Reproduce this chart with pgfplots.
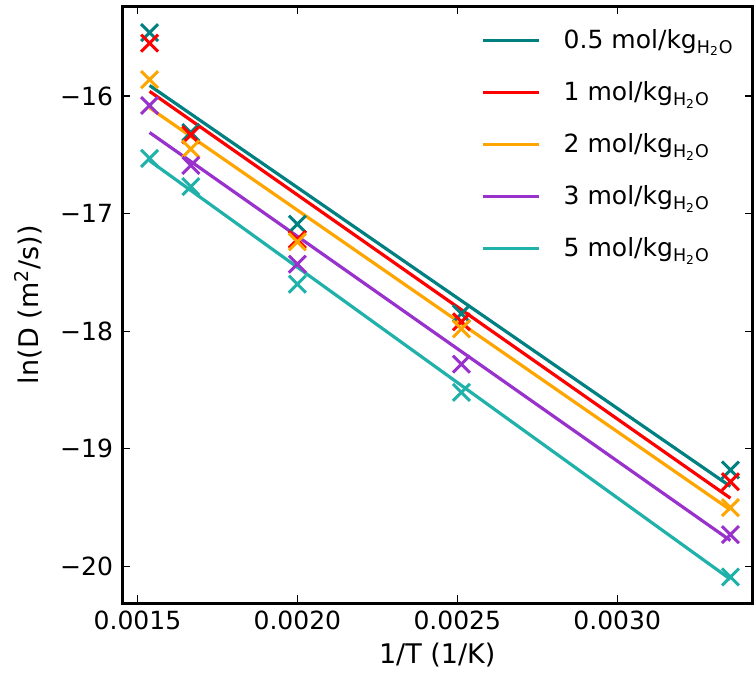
\documentclass[border=0pt]{standalone}
\usepackage{fontspec}
\setmainfont{DejaVu Sans}
\usepackage{pgfplots}
\pgfplotsset{compat=1.18}

\definecolor{cteal}{RGB}{0,128,128}
\definecolor{cred}{RGB}{255,0,0}
\definecolor{corange}{RGB}{255,165,0}
\definecolor{cpurple}{RGB}{153,50,204}
\definecolor{ccyan}{RGB}{32,178,170}

\newcommand{\molkg}{mol/kg\textsubscript{H\textsubscript{2}O}}

\begin{document}
\begin{tikzpicture}
\begin{axis}[
  scale only axis,
  width=315pt, height=298.5pt,
  xmin=0.001452, xmax=0.003423,
  ymin=-20.315, ymax=-15.234,
  xtick={0.0015,0.002,0.0025,0.003},
  xticklabels={0.0015,0.0020,0.0025,0.0030},
  ytick={-20,-19,-18,-17,-16},
  yticklabels={−20,−19,−18,−17,−16},
  scaled x ticks=false,
  tick align=inside,
  major tick length=4pt,
  tick style={line width=0.7pt,black},
  axis line style={line width=1.5pt},
  ticklabel style={font=\fontsize{12.5}{15}\selectfont},
  yticklabel style={xshift=-1pt},
  label style={font=\fontsize{13.5}{16}\selectfont},
  xlabel={1/T (1/K)},
  ylabel={ln(D (m\textsuperscript{2}/s))},
  ylabel style={yshift=2pt},
  legend style={draw=none, fill=none, at={(0.9866,0.975)}, anchor=north east,
    font=\fontsize{12.5}{15}\selectfont, row sep=11pt},
  legend cell align=left,
  legend image code/.code={\draw[#1] (0pt,0pt) -- (28pt,0pt); \path (37.5pt,0pt);},
  every axis plot/.append style={line width=1.6pt},
]
% fitted lines
\addplot[cteal, no markers] coordinates {(0.001538,-15.91) (0.003354,-19.32)};
\addplot[cred, no markers] coordinates {(0.001538,-15.96) (0.003354,-19.42)};
\addplot[corange, no markers] coordinates {(0.001538,-16.10) (0.003354,-19.52)};
\addplot[cpurple, no markers] coordinates {(0.001538,-16.31) (0.003354,-19.78)};
\addplot[ccyan, no markers] coordinates {(0.001538,-16.55) (0.003354,-20.11)};
\legend{0.5 \molkg, 1 \molkg, 2 \molkg, 3 \molkg, 5 \molkg}
% measured points
\addplot[only marks, mark=x, mark size=6pt, line width=1.5pt, cteal, forget plot] coordinates {
  (0.001538,-15.46) (0.001667,-16.31) (0.002,-17.09) (0.002513,-17.85) (0.003354,-19.18)};
\addplot[only marks, mark=x, mark size=6pt, line width=1.5pt, cred, forget plot] coordinates {
  (0.001538,-15.55) (0.001667,-16.33) (0.002,-17.22) (0.002513,-17.92) (0.003354,-19.28)};
\addplot[only marks, mark=x, mark size=6pt, line width=1.5pt, corange, forget plot] coordinates {
  (0.001538,-15.86) (0.001667,-16.45) (0.002,-17.24) (0.002513,-17.98) (0.003354,-19.50)};
\addplot[only marks, mark=x, mark size=6pt, line width=1.5pt, cpurple, forget plot] coordinates {
  (0.001538,-16.08) (0.001667,-16.59) (0.002,-17.43) (0.002513,-18.28) (0.003354,-19.73)};
\addplot[only marks, mark=x, mark size=6pt, line width=1.5pt, ccyan, forget plot] coordinates {
  (0.001538,-16.53) (0.001667,-16.77) (0.002,-17.60) (0.002513,-18.52) (0.003354,-20.09)};
\coordinate (bl) at (rel axis cs:0,0);
\coordinate (tr) at (rel axis cs:1,1);
\end{axis}
\path (bl) ++(-61pt,-39pt) (tr) ++(0.5pt,3pt);
\end{tikzpicture}
\end{document}
